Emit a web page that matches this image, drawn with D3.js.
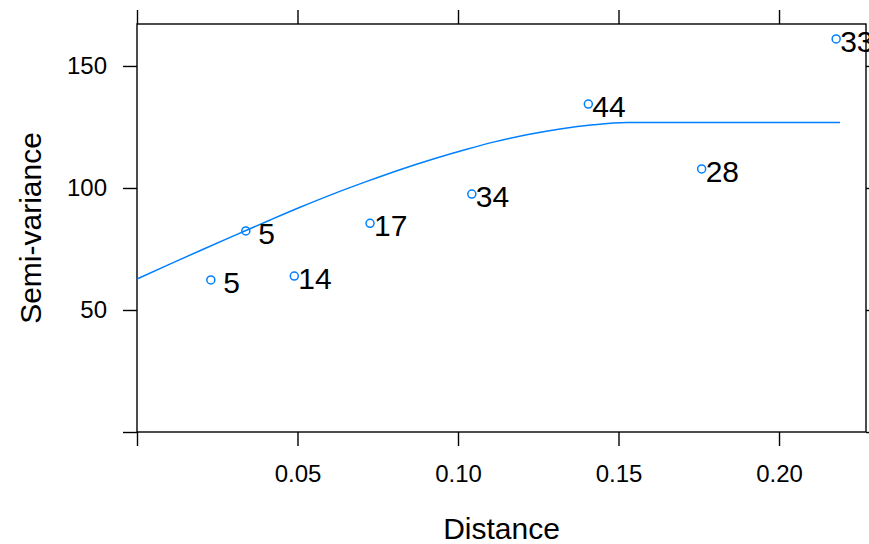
<!DOCTYPE html>
<html>
<head>
<meta charset="utf-8">
<script src="https://cdn.jsdelivr.net/npm/d3@7"></script>
<style>
  body { margin: 0; background: #fff; }
  svg { display: block; font-family: "Liberation Sans", Arial, sans-serif; }
</style>
</head>
<body>
<svg id="chart" width="869" height="544"></svg>
<script>
// sample variogram: lag distance, semi-variance, number of pairs
const dist = [0.0230, 0.0339, 0.0490, 0.0726, 0.1043, 0.1406, 0.1759, 0.2178];
const gamma = [62.3, 82.4, 63.9, 85.5, 97.5, 134.4, 107.8, 161.1];
const npairs = [5, 5, 14, 17, 34, 44, 28, 33];

// fitted model line
const modelDist = [0, 0.0104, 0.0208, 0.0312, 0.0415, 0.0508, 0.0612, 0.0716, 0.0819,
  0.0923, 0.1027, 0.1110, 0.1214, 0.1318, 0.1421, 0.1526, 0.2190];
const modelGamma = [62.7, 68.9, 75.0, 81.0, 86.9, 92.1, 97.6, 102.7, 107.5,
  111.9, 115.9, 118.8, 121.8, 124.2, 125.9, 126.8, 126.8];

const xTicks = [0, 0.05, 0.10, 0.15, 0.20];
const yTicks = [0, 50, 100, 150];

const svg = d3.select("#chart");
const pLeft = 137, pRight = 866, pTop = 24, pBottom = 432;
const blue = "#0080ff";

const x = d3.scaleLinear().domain([0, 0.2271]).range([pLeft, pRight]);
const y = d3.scaleLinear().domain([0, 167.2]).range([pBottom, pTop]);

function styleAxis(g, size) {
  g.select(".domain").remove();
  g.selectAll(".tick line").attr("stroke", "#000").attr("stroke-width", 1.4);
  g.selectAll(".tick text").attr("fill", "#000").style("font-size", size + "px");
}

const fx = d => d === 0 ? "" : d3.format(".2f")(d);
const fy = d => d === 0 ? "" : d3.format("d")(d);

svg.append("g")
  .attr("transform", `translate(0,${pBottom})`)
  .call(d3.axisBottom(x).tickValues(xTicks).tickFormat(fx).tickSize(14).tickPadding(19).tickSizeOuter(0))
  .call(g => styleAxis(g, 24));

svg.append("g")
  .attr("transform", `translate(0,${pTop})`)
  .call(d3.axisTop(x).tickValues(xTicks).tickFormat("").tickSize(14).tickSizeOuter(0))
  .call(g => styleAxis(g, 24));

svg.append("g")
  .attr("transform", `translate(${pLeft},0)`)
  .call(d3.axisLeft(y).tickValues(yTicks).tickFormat(fy).tickSize(14).tickPadding(16).tickSizeOuter(0))
  .call(g => styleAxis(g, 24));

svg.append("g")
  .attr("transform", `translate(${pRight},0)`)
  .call(d3.axisRight(y).tickValues(yTicks).tickFormat("").tickSize(14).tickSizeOuter(0))
  .call(g => styleAxis(g, 24));

// panel border
svg.append("rect")
  .attr("x", pLeft).attr("y", pTop)
  .attr("width", pRight - pLeft).attr("height", pBottom - pTop)
  .attr("fill", "none").attr("stroke", "#000").attr("stroke-width", 1.4);

const plot = svg.append("g");

const line = d3.line()
  .x((d, i) => x(modelDist[i]))
  .y(d => y(d))
  .curve(d3.curveMonotoneX);

plot.append("path")
  .datum(modelGamma)
  .attr("d", line)
  .attr("fill", "none")
  .attr("stroke", blue)
  .attr("stroke-width", 1.5);

plot.selectAll(".pt")
  .data(gamma)
  .enter()
  .append("circle")
  .attr("class", "pt")
  .attr("cx", (d, i) => x(dist[i]))
  .attr("cy", d => y(d))
  .attr("r", 4)
  .attr("fill", "none")
  .attr("stroke", blue)
  .attr("stroke-width", 1.5);

plot.selectAll(".np")
  .data(npairs)
  .enter()
  .append("text")
  .attr("class", "np")
  .attr("x", (d, i) => x(dist[i]) + 4)
  .attr("y", (d, i) => y(gamma[i]) + 13)
  .style("font-size", "30px")
  .style("white-space", "pre")
  .attr("fill", "#000")
  .text(d => String(d).padStart(2, " "));

// axis titles
svg.append("text")
  .attr("x", (pLeft + pRight) / 2)
  .attr("y", 539)
  .attr("text-anchor", "middle")
  .style("font-size", "30px")
  .attr("fill", "#000")
  .text("Distance");

svg.append("text")
  .attr("transform", `translate(41,${(pTop + pBottom) / 2}) rotate(-90)`)
  .attr("text-anchor", "middle")
  .style("font-size", "30px")
  .attr("fill", "#000")
  .text("Semi-variance");
</script>
</body>
</html>
